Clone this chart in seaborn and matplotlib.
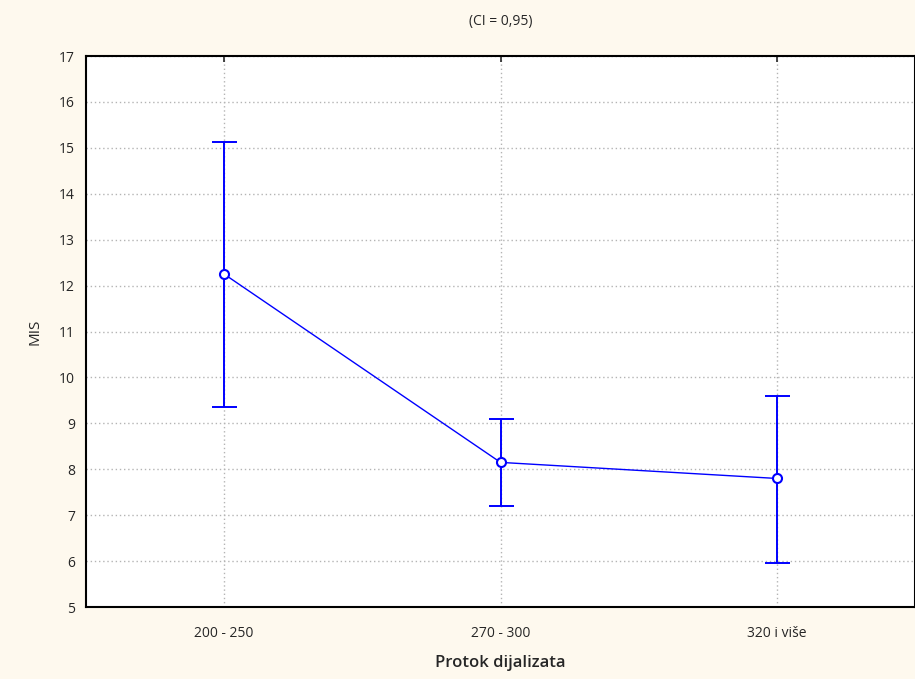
import pandas as pd
import matplotlib.pyplot as plt
import seaborn as sns

# MIS by dialysate flow, mean with 95% CI
groups = ['200 - 250', '270 - 300', '320 i više']
means = [12.25, 8.15, 7.8]
ci_low = [9.35, 7.2, 5.95]
ci_high = [15.12, 9.1, 9.6]

df = pd.DataFrame({'grupa': groups, 'MIS': means})

sns.set_style('white')
plt.rcParams['font.family'] = ['Open Sans', 'DejaVu Sans']

fig = plt.figure(figsize=(9.15, 6.79), dpi=100, facecolor='#fef9ee')
ax = fig.add_axes([0.094, 0.106, 0.906, 0.8115])
ax.set_facecolor('white')

blue = '#0000ff'
sns.pointplot(data=df, x='grupa', y='MIS', color=blue, errorbar=None,
              markers='o', linewidth=1, markersize=0, ax=ax)

yerr = [[m - lo for m, lo in zip(means, ci_low)],
        [hi - m for m, hi in zip(means, ci_high)]]
ax.errorbar(range(len(groups)), means, yerr=yerr, fmt='none', ecolor=blue,
            elinewidth=1.4, capsize=9, capthick=1.4, zorder=3)
ax.plot(range(len(groups)), means, 'o', ms=6.5, mfc='white', mec=blue,
        mew=1.5, zorder=4)

ax.set_xlim(-0.5, 2.5)
ax.set_ylim(5, 17)
ax.set_yticks(range(5, 18))
ax.grid(True, linestyle=(0, (1, 2)), color='#b4b4b4', linewidth=1)
ax.set_axisbelow(True)
for s in ax.spines.values():
    s.set_color('black')
    s.set_linewidth(1.5)
ax.tick_params(direction='in', length=4, width=1.2, labelsize=10, pad=8,
               top=True, right=False)
ax.tick_params(axis='x', pad=14)

ax.set_xlabel('Protok dijalizata', fontsize=12, fontweight='semibold', labelpad=10)
ax.set_ylabel('MIS', fontsize=11, labelpad=12)
ax.set_title('(CI = 0,95)', fontsize=10, pad=22)

fig.savefig('out.png', dpi=100, facecolor=fig.get_facecolor())
